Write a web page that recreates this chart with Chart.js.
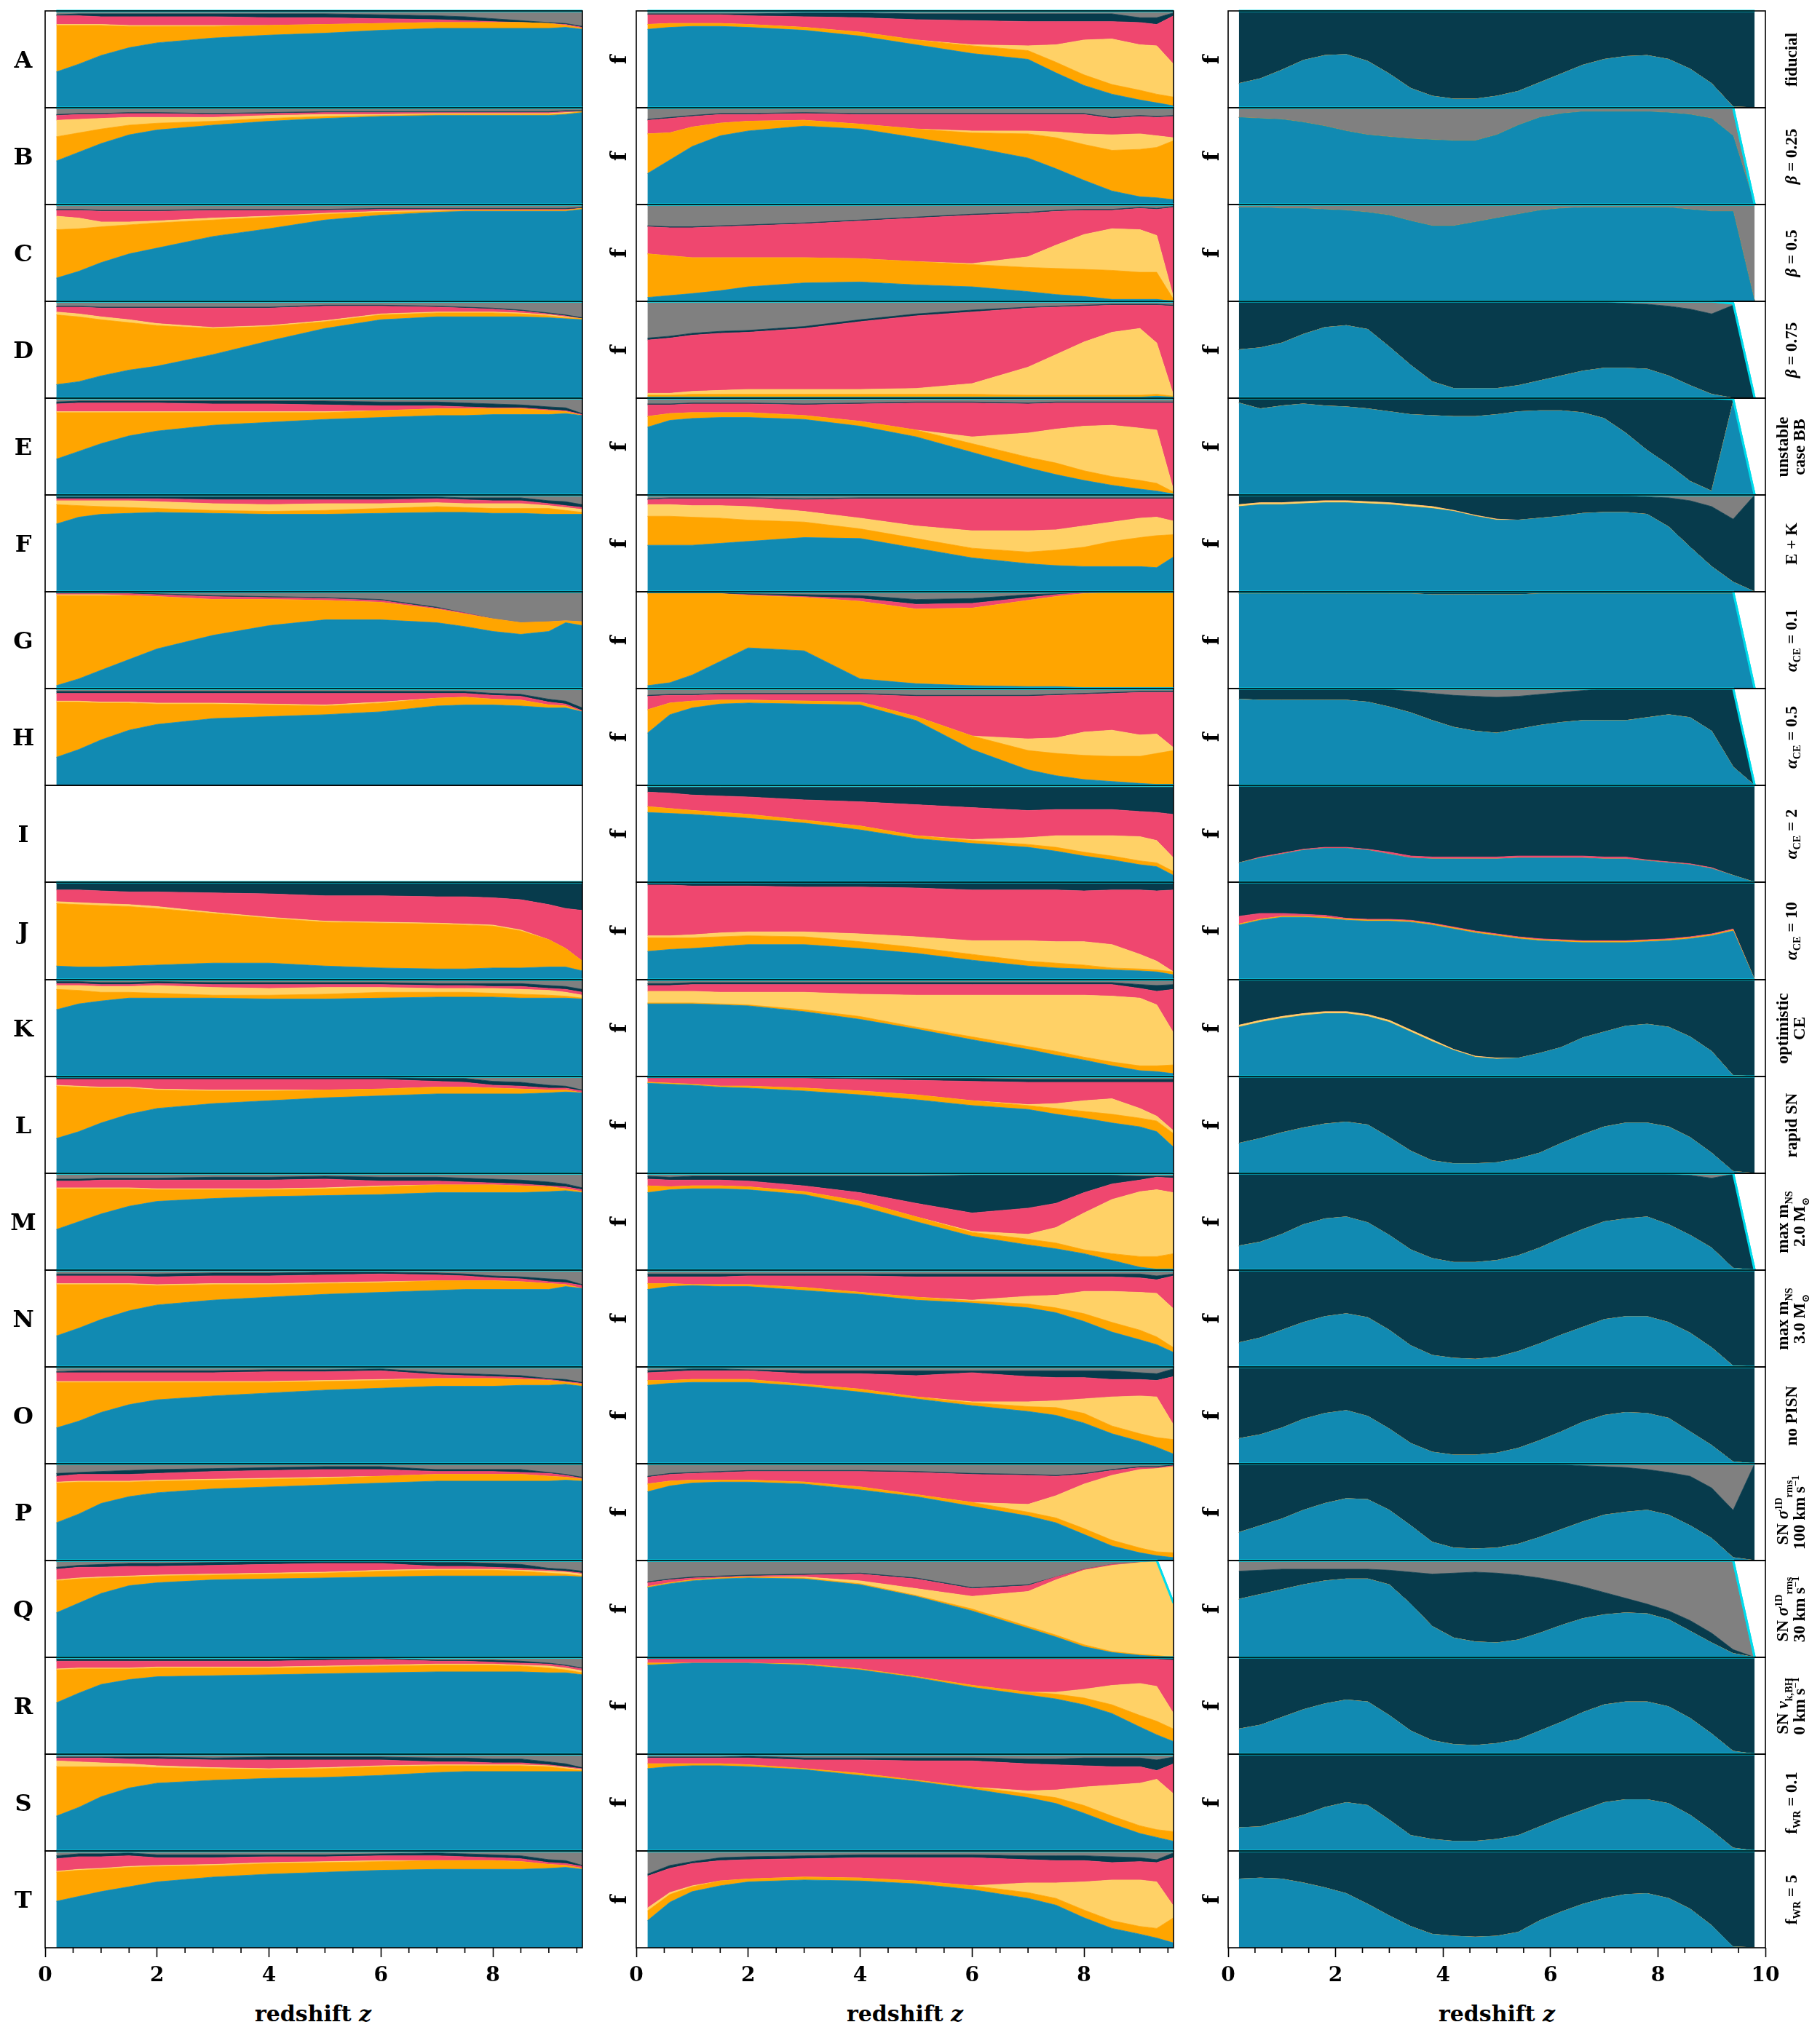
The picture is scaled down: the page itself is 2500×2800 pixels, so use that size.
<!DOCTYPE html>
<html><head><meta charset="utf-8">
<script src="https://cdn.jsdelivr.net/npm/chart.js@4.4.1/dist/chart.umd.min.js"></script>
<style>
html,body{margin:0;padding:0;background:#fff;}
#fig{position:relative;width:2500px;height:2800px;overflow:hidden;font-family:"Liberation Serif","DejaVu Serif",serif;color:#000;background:#fff;}
canvas{position:absolute;}
.lbl{position:absolute;white-space:nowrap;transform:translate(-50%,-50%);line-height:1;}
.rot{transform:translate(-50%,-50%) rotate(-90deg);text-align:center;}
.dj{font-family:"DejaVu Serif",serif;font-weight:bold;}
sub,sup{font-size:0.62em;line-height:0;}
</style></head><body><div id="fig"></div>
<script>
// ---------------- data ----------------
const zL = [0.2, 0.6, 1.0, 1.5, 2, 3, 4, 5, 6, 7, 7.5, 8, 8.5, 9, 9.3, 9.6];
const zR = [0.2, 0.6, 1.0, 1.4, 1.8, 2.2, 2.6, 3.0, 3.4, 3.8, 4.2, 4.6, 5.0, 5.4, 5.8, 6.2, 6.6, 7.0, 7.4, 7.8, 8.2, 8.6, 9.0, 9.4, 9.8];
const xTicksMajor = [0, 2, 4, 6, 8, 10];
const rowLetters = ['A','B','C','D','E','F','G','H','I','J','K','L','M','N','O','P','Q','R','S','T'];
const variantLabels = ['fiducial','<i>β</i> = 0.25','<i>β</i> = 0.5','<i>β</i> = 0.75','unstable<br>case BB','E + K',
 '<i>α</i><sub>CE</sub> = 0.1','<i>α</i><sub>CE</sub> = 0.5','<i>α</i><sub>CE</sub> = 2','<i>α</i><sub>CE</sub> = 10',
 'optimistic<br>CE','rapid SN','max m<sub>NS</sub><br>2.0 M<sub>⊙</sub>','max m<sub>NS</sub><br>3.0 M<sub>⊙</sub>','no PISN',
 'SN <i>σ</i><sup>1D</sup><sub>rms</sub><br>100 km s<sup>−1</sup>','SN <i>σ</i><sup>1D</sup><sub>rms</sub><br>30 km s<sup>−1</sup>',
 'SN <i>v</i><sub>k,BH</sub><br>0 km s<sup>−1</sup>','f<sub>WR</sub> = 0.1','f<sub>WR</sub> = 5'];
const channelNames = ['classic','stable MT','single-core CE','double-core CE','other','unclassified'];
const zeros25 = [0,0,0,0,0,0,0,0,0,0,0,0,0,0,0,0,0,0,0,0,0,0,0,0,0];

// left column, percent per channel [blue, orange, yellow, pink, dark, gray]
const left_A = [[37,45,54,62,67,72,75,77,80,82,82,82,82,82,83,81],[48,40,31,22,17,12,10,9,7,6,6,6,6,5,2,1],[1,1,1,1,1,1,0,0,0,0,0,0,0,0,0,0],[9,9,8,9,9,9,8,7,5,3,2,1,0,0,1,1],[1,2,3,3,3,3,4,4,4,4,4,3,2,1,1,1],[4,3,3,3,3,3,3,3,4,5,6,8,10,12,13,16]];
const left_B = [[45,54,63,72,77,82,86,89,91,92,92,92,92,92,93,95],[25,20,15,10,7,4,3,2,1,1,1,1,1,1,1,1],[17,14,11,8,6,4,3,2,1,1,1,1,1,1,1,0],[5,5,4,4,4,3,2,2,2,1,1,1,1,1,1,0],[1,1,1,1,1,1,1,1,1,1,1,1,1,1,1,1],[7,6,6,5,5,6,5,4,4,4,4,4,4,4,3,3]];
const left_C = [[24,31,40,49,55,67,75,84,89,92,93,93,93,93,93,95],[50,44,37,30,26,17,12,6,3,1,1,1,1,1,1,1],[14,11,5,3,2,2,1,1,1,1,0,0,0,0,0,0],[6,8,11,11,10,8,6,3,2,1,1,1,1,1,1,0],[1,1,1,1,1,1,1,1,1,1,1,1,1,1,1,1],[5,5,6,6,6,5,5,5,4,4,4,4,4,4,4,3]];
const left_D = [[14,17,23,29,33,45,59,72,81,84,84,84,84,83,82,81],[72,67,58,49,42,27,15,7,5,4,4,4,3,2,1,1],[3,3,3,3,2,1,1,1,1,1,1,1,1,1,1,0],[5,7,9,12,16,20,18,15,8,5,4,3,2,1,1,0],[1,1,1,1,1,1,1,1,1,1,1,1,1,1,1,1],[5,5,6,6,6,6,6,4,4,5,6,7,9,12,14,17]];
const left_E = [[37,45,53,61,66,72,75,78,80,82,82,83,83,83,84,82],[48,40,32,24,19,13,10,7,7,7,7,6,6,4,2,0],[1,1,1,1,1,1,1,1,0,0,0,0,0,0,0,0],[8,9,9,9,9,8,8,7,5,3,2,1,1,1,1,1],[2,2,2,2,2,3,3,4,4,4,4,4,3,3,3,1],[4,3,3,3,3,3,3,3,4,4,5,6,7,9,10,16]];
const left_F = [[70,77,80,81,82,81,80,80,81,82,82,81,81,80,80,80],[20,12,8,6,4,3,3,4,5,6,5,5,5,6,4,2],[4,5,6,7,7,7,7,7,5,4,4,5,5,3,3,3],[2,2,2,2,3,4,5,4,4,4,4,3,3,2,2,2],[2,2,2,2,2,3,3,3,3,2,2,3,3,3,4,3],[2,2,2,2,2,2,2,2,2,2,3,3,3,6,7,10]];
const left_G = [[3,10,19,30,41,55,65,71,71,68,64,59,56,59,68,65],[93,86,77,66,54,37,27,20,18,14,13,13,12,10,2,4],[1,1,1,0,0,0,0,0,0,0,0,0,0,0,0,0],[1,1,1,2,2,3,2,2,2,1,1,0,0,0,0,0],[1,1,1,1,1,1,1,1,1,1,0,0,0,0,0,0],[1,1,1,1,2,4,5,6,8,16,22,28,32,31,30,31]];
const left_H = [[29,37,47,57,63,69,71,73,76,82,83,83,82,80,80,76],[57,49,38,28,21,15,12,9,9,8,8,6,6,3,2,0],[1,1,1,1,1,1,1,1,1,0,0,0,0,0,0,0],[8,8,9,9,10,10,11,12,9,5,4,4,4,3,2,1],[2,2,2,2,2,2,2,2,2,2,2,2,2,3,3,3],[3,3,3,3,3,3,3,3,3,3,3,5,6,11,13,20]];
const left_I = [];
const left_J = [[14,13,13,14,15,17,17,14,12,11,11,12,12,13,13,9],[64,64,63,61,58,51,46,45,46,46,45,43,38,28,19,10],[2,2,2,2,2,1,1,1,1,1,1,1,1,0,0,0],[12,13,13,13,15,20,24,26,27,27,28,28,31,36,41,52],[7,7,8,9,9,10,11,13,13,14,14,15,17,22,26,28],[1,1,1,1,1,1,1,1,1,1,1,1,1,1,1,1]];
const left_K = [[69,75,78,81,81,81,80,80,81,82,82,82,81,81,81,80],[21,14,9,6,5,3,4,5,6,5,5,4,4,3,2,1],[4,5,6,6,8,8,7,7,5,4,4,5,5,5,4,3],[2,2,2,2,2,3,4,3,3,3,3,2,3,2,3,3],[2,2,2,2,2,2,2,2,2,2,2,3,3,3,3,3],[2,2,3,3,2,3,3,3,3,4,4,4,4,6,7,10]];
const left_L = [[36,43,52,61,67,72,75,78,80,82,82,82,82,83,84,83],[54,46,36,27,19,13,10,8,7,7,7,6,5,3,2,0],[1,1,1,1,1,1,1,0,0,0,0,0,0,0,0,0],[6,7,8,8,10,11,11,11,10,6,5,3,3,2,2,2],[2,2,2,2,2,2,2,2,2,3,4,4,4,3,2,1],[1,1,1,1,1,1,1,1,1,2,2,5,6,9,10,14]];
const left_M = [[42,50,58,66,71,74,76,77,78,80,80,80,80,81,82,80],[42,34,26,18,12,9,7,7,8,8,8,8,7,5,2,1],[1,1,1,1,1,1,1,1,1,0,0,0,0,0,0,0],[7,7,8,8,9,9,9,9,5,4,3,2,2,1,2,2],[2,2,2,2,2,3,3,3,4,4,4,4,4,4,3,2],[6,6,5,5,5,4,4,3,4,4,5,6,7,9,11,15]];
const left_N = [[32,40,49,58,64,69,72,75,77,79,80,80,80,80,83,81],[53,45,36,27,20,16,13,11,10,10,9,9,8,6,2,0],[1,1,1,1,1,1,1,1,1,0,0,0,0,0,0,0],[8,8,8,8,8,8,8,8,8,6,5,3,3,2,2,3],[2,2,2,2,3,3,3,3,2,2,2,2,2,3,3,1],[4,4,4,4,4,3,3,2,2,3,4,6,7,9,10,15]];
const left_O = [[37,44,53,61,66,70,73,76,78,80,80,80,81,81,82,80],[47,40,31,23,18,14,11,9,8,8,8,8,6,5,2,2],[1,1,1,1,1,1,1,1,1,0,0,0,0,0,0,0],[9,9,9,9,9,9,10,9,9,4,3,2,2,1,1,1],[1,2,2,2,2,2,2,2,2,2,2,2,2,1,2,1],[5,4,4,4,4,4,3,3,2,6,7,8,9,12,13,16]];
const left_P = [[39,48,59,66,70,74,76,78,80,82,82,82,82,82,83,82],[41,33,22,15,12,9,8,7,7,7,7,7,7,5,3,2],[1,1,1,1,1,1,1,1,0,0,0,0,0,0,0,0],[6,7,7,7,7,8,8,8,7,3,3,3,2,3,2,1],[3,2,3,4,4,3,3,3,3,2,2,2,3,1,1,1],[10,9,8,7,6,5,4,3,3,6,6,6,6,9,11,14]];
const left_Q = [[46,56,66,74,77,80,81,82,83,84,84,84,84,84,84,83],[33,25,16,9,7,5,5,5,6,6,6,6,5,3,2,1],[1,1,1,1,1,1,1,1,1,1,1,1,1,2,2,2],[11,11,10,10,9,9,9,9,7,3,3,2,2,1,1,1],[2,2,3,3,3,3,3,2,2,4,4,4,4,2,2,2],[7,5,4,3,3,2,1,1,1,2,2,3,4,8,9,11]];
const left_R = [[53,63,72,77,80,81,82,83,84,85,85,85,85,84,84,82],[34,25,16,11,9,8,7,7,7,7,7,7,6,5,3,2],[1,1,1,1,1,1,1,1,1,1,1,1,1,2,2,2],[8,7,7,7,6,6,6,6,6,3,3,2,2,2,2,2],[2,2,2,2,2,2,2,2,1,1,1,2,2,1,1,1],[2,2,2,2,2,2,2,1,1,3,3,3,4,6,8,11]];
const left_S = [[36,45,56,65,70,73,75,76,78,81,82,82,82,82,82,82],[51,42,31,22,16,12,9,9,9,7,6,6,6,5,3,1],[6,5,4,3,2,1,1,1,1,1,1,1,1,1,1,1],[3,4,5,5,7,8,9,8,6,3,3,2,2,1,1,1],[1,1,1,2,2,2,3,3,3,4,4,4,4,3,3,1],[3,3,3,3,3,4,3,3,3,4,4,5,5,8,10,14]];
const left_T = [[48,53,58,63,68,73,76,78,80,81,81,81,81,82,83,81],[30,27,23,20,16,12,11,10,9,9,9,9,8,4,2,1],[1,1,1,1,1,1,1,1,1,0,0,0,0,0,0,0],[13,13,12,11,8,7,6,5,5,5,4,3,3,2,2,2],[3,3,3,3,3,3,2,2,2,3,3,3,3,3,3,1],[5,3,3,2,4,4,4,4,3,2,3,4,5,9,10,15]];

// middle column
const mid_A = [[81,83,84,84,83,80,74,65,56,50,36,23,14,8,5,2],[5,4,3,3,3,3,4,5,8,9,11,11,10,10,9,9],[0,0,0,0,0,0,0,0,1,5,18,36,47,47,50,34],[10,9,9,9,9,11,15,21,25,25,24,19,18,23,22,50],[1,1,1,1,2,4,5,6,7,8,8,8,8,5,7,3],[3,3,3,3,3,2,2,3,3,3,3,3,3,7,7,2]];
const mid_B = [[32,46,60,71,76,81,78,69,59,48,37,25,14,8,7,5],[41,28,20,13,10,6,5,9,15,25,32,37,42,49,52,61],[0,0,0,0,0,0,0,0,2,3,6,11,16,16,12,3],[14,15,11,9,7,7,10,15,17,17,18,20,17,18,19,22],[1,1,1,1,1,1,1,1,1,1,1,1,1,1,1,1],[12,10,8,6,6,5,6,6,6,6,6,6,10,8,9,8]];
const mid_C = [[4,6,8,11,15,19,20,17,15,10,7,5,2,2,2,0],[45,41,37,34,30,26,24,24,23,25,27,28,30,28,28,2],[0,0,0,0,0,0,0,0,1,11,24,36,43,44,38,2],[28,29,31,32,33,35,39,45,50,45,35,25,19,22,27,93],[1,1,1,1,1,1,1,1,1,1,1,1,1,1,1,1],[22,23,23,22,21,19,16,13,10,8,6,5,5,3,4,2]];
const mid_D = [[1,1,1,1,1,1,1,1,1,1,1,1,1,1,2,1],[2,2,3,3,3,3,3,3,3,2,2,2,2,2,2,1],[2,2,3,4,5,5,5,6,11,29,42,55,65,69,53,1],[55,57,58,59,59,63,70,75,74,61,49,37,28,24,39,92],[2,2,2,2,2,2,2,2,2,1,1,1,1,1,1,1],[38,36,33,31,30,26,19,13,9,6,5,4,3,3,3,4]];
const mid_E = [[70,77,79,80,80,78,71,60,44,28,21,15,10,6,4,1],[11,7,6,5,5,4,5,7,9,11,12,10,9,9,8,2],[0,0,0,0,0,0,0,0,7,25,35,46,53,54,55,2],[12,9,9,9,9,11,18,28,35,30,27,24,23,26,28,90],[1,1,1,1,1,1,1,1,1,1,1,1,1,1,1,1],[6,6,5,5,5,6,5,4,4,5,4,4,4,4,4,4]];
const mid_F = [[48,48,48,50,52,56,55,45,35,29,27,26,26,26,25,36],[30,30,29,26,22,16,10,10,10,12,16,20,26,30,33,23],[12,12,12,13,14,11,11,13,18,22,21,22,20,20,19,14],[5,6,7,7,8,12,20,28,33,33,32,28,24,20,19,23],[1,1,1,1,1,1,1,1,1,1,1,1,1,1,1,1],[4,3,3,3,3,4,3,3,3,3,3,3,3,3,3,3]];
const mid_G = [[3,6,14,28,42,39,10,5,3,2,2,1,1,1,1,1],[95,92,84,70,54,55,80,77,80,89,93,97,98,98,98,98],[0,0,0,0,0,0,0,0,0,0,0,0,0,0,0,0],[0,0,0,0,1,1,3,5,5,3,2,1,0,0,0,0],[1,1,1,1,1,2,3,5,5,3,1,0,0,0,0,0],[1,1,1,1,2,3,4,8,7,3,2,1,1,1,1,1]];
const mid_H = [[54,73,80,84,85,84,83,67,37,16,10,6,4,2,1,1],[24,12,7,4,3,3,3,4,14,20,23,25,26,28,32,35],[0,0,0,0,0,0,0,0,0,12,16,24,27,22,20,3],[14,8,6,6,6,7,8,21,41,44,44,39,38,44,43,57],[1,1,1,1,1,1,1,1,1,1,1,1,1,1,1,1],[7,6,6,5,5,5,5,7,7,7,6,5,4,3,3,3]];
const mid_I = [[72,71,70,68,66,61,54,45,40,36,32,27,23,18,16,7],[6,5,4,4,4,3,4,3,3,3,4,4,4,4,4,4],[0,0,0,0,0,0,0,0,1,7,12,17,21,25,23,14],[15,16,16,17,18,21,25,32,33,28,27,27,27,26,29,45],[5,6,8,9,10,13,15,18,21,24,23,23,23,25,26,28],[2,2,2,2,2,2,2,2,2,2,2,2,2,2,2,2]];
const mid_J = [[29,31,32,34,36,36,32,27,20,14,12,11,10,9,8,5],[14,12,11,10,9,8,7,6,6,5,5,4,2,2,2,3],[2,2,3,4,4,5,8,11,14,21,22,24,24,15,9,0],[52,52,50,48,47,46,48,50,52,52,53,52,56,66,72,84],[2,2,3,3,3,4,4,5,7,7,7,8,7,7,8,7],[1,1,1,1,1,1,1,1,1,1,1,1,1,1,1,1]];
const mid_K = [[75,75,75,74,73,67,59,49,38,28,22,17,11,6,5,3],[1,1,1,1,1,2,3,2,3,3,4,3,4,5,6,9],[12,12,12,12,13,18,23,33,43,53,58,64,68,70,63,33],[6,6,7,8,8,8,10,11,11,11,11,11,12,10,14,45],[2,2,2,2,2,2,2,2,2,2,2,2,2,4,6,5],[4,4,3,3,3,3,3,3,3,3,3,3,3,5,6,5]];
const mid_L = [[93,92,91,89,88,85,81,76,70,66,61,57,52,48,43,27],[1,1,1,1,2,3,4,5,5,4,6,7,9,9,11,14],[0,0,0,0,0,0,0,0,0,1,5,11,16,10,5,3],[4,5,6,8,8,10,12,15,20,23,22,19,17,27,35,50],[1,1,1,1,1,1,1,2,3,3,3,3,3,3,3,3],[1,1,1,1,1,1,2,2,2,3,3,3,3,3,3,3]];
const mid_M = [[80,83,84,84,83,78,66,50,35,26,22,17,10,3,1,1],[7,3,3,3,3,3,5,5,4,6,6,4,7,11,13,16],[0,0,0,0,0,0,0,0,1,5,16,38,56,67,69,63],[7,7,6,6,6,6,9,14,19,27,25,21,16,12,13,15],[3,3,4,4,5,10,17,28,39,34,29,18,9,4,1,2],[3,4,3,3,3,3,3,3,2,2,2,2,2,3,3,3]];
const mid_N = [[80,83,84,83,83,79,75,69,66,61,56,47,36,28,23,15],[6,3,1,2,2,3,2,3,2,4,5,8,10,10,8,5],[0,0,0,0,0,0,0,0,1,8,13,23,32,39,45,40],[7,7,8,8,9,12,17,21,24,20,19,15,15,15,14,34],[3,3,3,3,2,2,2,3,3,3,3,3,3,4,4,2],[4,4,4,4,4,4,4,4,4,4,4,4,4,4,6,4]];
const mid_O = [[81,83,84,84,84,80,74,67,60,54,50,42,31,23,17,10],[5,3,3,3,3,2,3,2,3,5,8,10,8,8,10,15],[0,0,0,0,0,0,0,0,1,5,7,15,30,39,42,15],[8,9,9,9,9,11,16,22,30,26,24,22,18,17,17,50],[2,2,2,2,1,3,3,5,2,6,7,7,9,7,7,8],[4,3,2,2,3,4,4,4,4,4,4,4,4,6,7,2]];
const mid_P = [[71,77,80,81,81,79,73,66,56,46,39,27,15,8,5,3],[8,5,3,2,2,2,3,2,4,4,5,6,6,5,4,5],[0,0,0,0,0,0,0,0,0,8,23,46,67,81,86,89],[7,7,7,8,9,11,16,23,29,30,20,10,5,2,1,1],[1,1,1,1,1,1,1,1,1,1,1,1,1,1,1,1],[13,10,9,8,7,7,7,8,10,11,12,10,6,3,3,1]];
const mid_Q = [[72,76,79,81,82,81,75,63,48,30,21,11,5,2,1,0],[1,1,1,1,1,1,1,1,2,2,2,2,1,1,1,0],[0,0,0,0,0,1,3,7,13,36,57,77,89,95,97,56],[4,3,2,1,1,2,7,10,8,6,3,1,1,0,0,0],[1,1,1,1,1,1,1,1,1,1,0,0,0,0,0,0],[22,19,17,16,15,14,13,18,28,25,17,9,4,2,1,0]];
const mid_R = [[92,93,94,94,94,92,87,79,69,61,57,51,42,28,20,13],[2,1,0,0,0,1,1,1,2,3,5,7,9,12,14,13],[0,0,0,0,0,0,0,0,0,0,2,9,20,33,36,16],[4,4,4,4,4,5,10,18,27,34,34,31,27,25,28,55],[1,1,1,1,1,1,1,1,1,1,1,1,1,1,1,2],[1,1,1,1,1,1,1,1,1,1,1,1,1,1,1,1]];
const mid_S = [[85,87,88,88,87,84,78,72,64,55,49,39,28,18,14,10],[5,3,2,2,2,1,2,1,2,4,6,8,8,8,8,10],[0,0,0,0,0,0,0,0,0,3,8,19,32,44,52,39],[6,6,6,6,7,9,14,20,27,28,26,22,19,17,9,31],[1,1,1,1,2,2,2,3,3,5,6,8,9,9,11,7],[3,3,3,3,2,4,4,4,4,5,5,4,4,4,6,3]];
const mid_T = [[28,47,58,64,68,70,69,66,60,51,44,31,20,14,10,5],[10,8,5,5,3,3,3,3,4,6,7,8,8,8,10,26],[3,2,1,0,0,0,0,0,0,10,16,29,42,48,48,12],[33,25,23,21,20,19,21,24,29,24,23,22,18,19,20,50],[2,3,2,3,3,3,3,3,3,4,5,5,6,4,3,5],[24,15,11,7,6,5,4,4,4,5,5,5,6,7,9,2]];

// right column
const right_A = [[25,30,39,49,54,55,48,35,20,12,9,9,12,17,26,35,44,50,53,54,50,40,25,1,0],zeros25,zeros25,zeros25,[75,70,61,51,46,45,52,65,80,88,91,91,88,83,74,65,56,50,47,46,50,60,75,99,100],zeros25];
const right_B = [[90,89,88,85,81,76,72,70,68,67,66,66,72,82,90,94,96,96,96,96,95,93,89,71,0],zeros25,zeros25,zeros25,zeros25,[10,11,12,15,19,24,28,30,32,33,34,34,28,18,10,6,4,4,4,4,5,7,11,29,0]];
const right_C = [[97,97,96,96,95,94,92,89,83,78,78,82,86,90,94,96,97,97,97,97,97,95,93,93,0],zeros25,zeros25,zeros25,zeros25,[3,3,4,4,5,6,8,11,17,22,22,18,14,10,6,4,3,3,3,3,3,5,7,7,100]];
const right_D = [[50,52,57,66,73,75,71,53,34,17,10,10,10,13,18,23,28,31,31,30,23,13,4,0,0],zeros25,zeros25,zeros25,[50,48,43,34,27,25,29,47,66,83,90,90,90,87,82,77,71,68,67,67,72,79,83,96,0],[0,0,0,0,0,0,0,0,0,0,0,0,0,0,0,0,1,1,2,3,5,8,13,2,0]];
const right_E = [[95,89,92,94,92,91,89,86,83,82,81,81,83,86,87,87,85,79,64,46,31,14,4,96,0],zeros25,zeros25,zeros25,[5,11,8,6,8,9,11,14,17,18,19,19,17,14,13,13,15,21,36,54,69,86,96,3,0],zeros25];
const right_F = [[88,90,90,91,92,92,91,90,88,86,83,78,74,74,76,78,81,82,82,80,67,46,26,10,0],zeros25,[2,2,2,2,2,2,2,2,2,2,1,1,1,0,0,0,0,0,0,0,0,0,0,0,0],zeros25,[10,8,8,7,6,6,7,8,10,12,16,21,25,26,24,22,19,18,17,18,30,48,62,65,100],[0,0,0,0,0,0,0,0,0,0,0,0,0,0,0,0,0,0,1,2,3,6,12,25,0]];
const right_G = [[98,98,98,98,98,98,98,98,98,97,97,97,97,97,98,98,98,98,98,98,98,98,98,98,0],zeros25,zeros25,zeros25,[2,2,2,2,2,2,2,2,2,3,3,3,3,3,2,2,2,2,2,2,2,2,2,2,0],zeros25];
const right_H = [[89,88,88,88,88,88,86,81,75,67,60,56,54,58,62,65,67,67,67,70,73,70,56,19,0],zeros25,zeros25,zeros25,[11,12,12,12,12,12,14,18,22,28,33,36,37,34,32,31,31,33,33,30,27,30,44,81,0],[0,0,0,0,0,0,0,1,3,5,7,8,9,8,6,4,2,0,0,0,0,0,0,0,0]];
const right_I = [[20,25,29,33,35,35,33,29,25,24,24,24,24,25,25,25,25,24,24,22,20,18,14,7,0],zeros25,zeros25,[0,1,1,1,1,1,1,2,2,2,2,2,2,2,2,2,2,2,2,1,1,1,1,0,0],[80,74,70,66,64,64,66,69,73,74,74,74,74,73,73,73,73,74,74,77,79,81,85,93,100],zeros25];
const right_J = [[56,61,64,64,63,61,60,60,59,56,52,48,45,42,40,39,38,38,38,39,40,42,45,50,0],[1,1,1,1,1,1,1,1,1,1,1,1,1,1,1,1,1,1,1,1,1,1,1,1,0],zeros25,[8,6,3,2,2,1,1,1,1,1,1,1,1,1,1,1,1,1,1,1,1,1,1,1,0],[35,32,32,33,34,37,38,38,39,42,46,50,53,56,58,59,60,60,60,59,58,56,53,48,100],zeros25];
const right_K = [[51,56,60,63,65,65,62,56,46,36,27,20,18,19,24,30,40,46,52,54,51,41,26,1,0],zeros25,[2,2,2,2,2,2,2,2,2,2,1,1,1,0,0,0,0,0,0,0,0,0,0,0,0],zeros25,[47,42,38,35,33,33,36,42,52,62,72,79,81,81,76,70,60,54,48,46,49,59,74,99,100],zeros25];
const right_L = [[31,36,42,47,51,53,50,37,23,13,10,10,11,15,21,31,40,48,52,52,48,37,21,2,0],zeros25,zeros25,zeros25,[69,64,58,53,49,47,50,63,77,87,90,90,89,85,79,69,60,52,48,48,52,63,79,98,100],zeros25];
const right_M = [[25,29,37,47,53,55,49,36,21,12,8,8,10,15,23,33,42,50,53,55,47,36,23,2,0],zeros25,zeros25,zeros25,[75,71,63,53,47,45,51,64,79,88,92,92,90,85,77,67,58,50,47,45,52,62,72,97,0],[0,0,0,0,0,0,0,0,0,0,0,0,0,0,0,0,0,0,0,0,1,2,5,1,0]];
const right_N = [[25,30,38,46,52,55,51,38,22,12,9,8,10,16,24,33,41,49,52,52,46,35,20,1,0],zeros25,zeros25,zeros25,[75,70,62,54,48,45,49,62,78,88,91,92,90,84,76,67,59,51,48,48,54,65,80,99,100],zeros25];
const right_O = [[26,30,37,46,52,55,49,36,21,12,9,9,11,16,24,33,43,50,53,52,47,33,19,2,0],zeros25,zeros25,zeros25,[74,70,63,54,48,45,51,64,79,88,91,91,89,84,76,67,57,50,47,48,53,67,81,98,100],zeros25];
const right_P = [[29,36,43,52,59,64,63,52,36,19,13,12,13,17,24,32,40,47,50,52,47,36,23,3,0],zeros25,zeros25,zeros25,[71,64,57,48,41,36,37,48,64,81,87,88,87,83,76,67,58,50,46,42,44,51,52,49,100],[0,0,0,0,0,0,0,0,0,0,0,0,0,0,0,1,2,3,4,6,9,13,25,48,0]];
const right_Q = [[60,65,70,75,79,81,81,75,55,32,20,16,15,18,25,33,40,44,46,45,39,27,15,4,0],zeros25,zeros25,zeros25,[29,25,21,16,12,10,10,15,33,54,67,72,72,67,57,45,33,23,15,10,9,11,10,4,0],[11,10,9,9,9,9,9,10,12,14,13,12,13,15,18,22,27,33,39,45,52,62,75,92,0]];
const right_R = [[26,30,38,46,52,56,54,40,24,14,10,9,11,15,24,33,43,51,54,54,49,37,21,3,0],zeros25,zeros25,zeros25,[74,70,62,54,48,44,46,60,76,86,90,91,89,85,76,67,57,49,46,46,51,63,79,97,100],zeros25];
const right_S = [[24,25,31,37,45,50,47,32,16,12,10,10,12,16,25,34,42,50,53,53,49,37,21,3,0],zeros25,zeros25,zeros25,[76,75,69,63,55,50,53,68,84,88,90,90,88,84,75,66,58,50,47,47,51,63,79,97,100],zeros25];
const right_T = [[71,72,71,67,62,56,45,33,22,14,12,11,12,16,28,37,45,51,55,56,51,40,23,1,0],zeros25,zeros25,zeros25,[29,28,29,33,38,44,55,67,78,86,88,89,88,84,72,63,55,49,45,44,49,60,77,99,100],zeros25];

const leftPanels  = [left_A,left_B,left_C,left_D,left_E,left_F,left_G,left_H,left_I,left_J,left_K,left_L,left_M,left_N,left_O,left_P,left_Q,left_R,left_S,left_T];
const midPanels   = [mid_A,mid_B,mid_C,mid_D,mid_E,mid_F,mid_G,mid_H,mid_I,mid_J,mid_K,mid_L,mid_M,mid_N,mid_O,mid_P,mid_Q,mid_R,mid_S,mid_T];
const rightPanels = [right_A,right_B,right_C,right_D,right_E,right_F,right_G,right_H,right_I,right_J,right_K,right_L,right_M,right_N,right_O,right_P,right_Q,right_R,right_S,right_T];

// ---------------- styles / layout ----------------
const channelColors = ['#118ab2','#ffa500','#ffd166','#ef476f','#073b4c','#808080'];
const topLineColor = '#00dcec';
const colLeft = [62, 874, 1687];
const colWidth = 738;
const xMaxCol = [9.6, 9.6, 10];
const rowTop = r => Math.round(15 + r * 133.05);
const PADX = 40, PADY = 2, AXISH = 70;

const fig = document.getElementById('fig');

const frame = { id:'frame', afterDraw(chart){
  const a = chart.chartArea, ctx = chart.ctx;
  ctx.save(); ctx.strokeStyle = '#000'; ctx.lineWidth = 1.6;
  ctx.strokeRect(a.left, a.top, a.right - a.left, a.bottom - a.top);
  ctx.restore();
}};
const topLine = { id:'topLine', afterDatasetsDraw(chart){
  const n = chart.data.datasets.length; if (!n) return;
  const meta = chart.getDatasetMeta(n - 1); const a = chart.chartArea; const ctx = chart.ctx;
  ctx.save(); ctx.beginPath(); ctx.rect(a.left, a.top - 3, a.right - a.left, a.bottom - a.top + 3); ctx.clip();
  meta.dataset.draw(ctx, a);
  ctx.restore();
}};
const minorTicks = { id:'minorTicks', afterDraw(chart, args, opts){
  if (!opts || !opts.on) return;
  const s = chart.scales.x, ctx = chart.ctx, b = chart.chartArea.bottom;
  ctx.save(); ctx.strokeStyle = '#000'; ctx.lineWidth = 1.6;
  for (let k = 1; k * 0.5 <= s.max + 1e-9; k++) {
    if (k % 4 === 0) continue;
    const x = s.getPixelForValue(k * 0.5);
    ctx.beginPath(); ctx.moveTo(x, b); ctx.lineTo(x, b + 7); ctx.stroke();
  }
  ctx.restore();
}};

function makeDatasets(panel, zs){
  return panel.map((vals, k) => ({
    label: channelNames[k],
    data: vals.map((v, i) => ({x: zs[i], y: v})),
    backgroundColor: channelColors[k],
    borderColor: k === 5 ? topLineColor : channelColors[k],
    borderWidth: k === 5 ? 3 : 0.8,
    fill: k === 0 ? 'origin' : '-1',
    pointRadius: 0, tension: 0
  }));
}

function makePanel(col, r, panel, zs){
  const isBottom = r === 19;
  const top = rowTop(r), h = rowTop(r + 1) - top;
  const cv = document.createElement('canvas');
  cv.width = colWidth + 2 * PADX;
  cv.height = h + PADY + (isBottom ? AXISH : PADY);
  cv.style.left = (colLeft[col] - PADX) + 'px';
  cv.style.top = (top - PADY) + 'px';
  fig.appendChild(cv);
  const xScale = { type: 'linear', min: 0, max: xMaxCol[col], display: isBottom,
    grid: { drawOnChartArea: false, drawTicks: true, tickLength: 13, tickWidth: 1.6, tickColor: '#000' },
    border: { display: false },
    afterBuildTicks: s => { s.ticks = xTicksMajor.filter(v => v <= xMaxCol[col]).map(v => ({value: v})); },
    ticks: { autoSkip: false, maxRotation: 0, color: '#000', padding: 9, font: { family: 'DejaVu Serif', size: 28, weight: 'bold' } } };
  if (isBottom) xScale.afterFit = s => { s.height = AXISH; s.paddingLeft = 0; s.paddingRight = 0; };
  new Chart(cv, {
    type: 'line',
    data: { datasets: makeDatasets(panel, zs) },
    options: {
      responsive: false, animation: false, devicePixelRatio: 1,
      layout: { padding: { left: PADX, right: PADX, top: PADY, bottom: isBottom ? 0 : PADY } },
      plugins: { legend: { display: false }, tooltip: { enabled: false }, minorTicks: { on: isBottom } },
      scales: { x: xScale, y: { stacked: true, min: 0, max: 100, display: false } }
    },
    plugins: [topLine, minorTicks, frame]
  });
}

const panelsByCol = [leftPanels, midPanels, rightPanels];
for (let c = 0; c < 3; c++) for (let r = 0; r < 20; r++) makePanel(c, r, panelsByCol[c][r], c < 2 ? zL : zR);

function addText(html, x, y, css, cls){
  const d = document.createElement('div');
  d.className = 'lbl' + (cls ? ' ' + cls : '');
  d.innerHTML = html;
  d.style.left = x + 'px'; d.style.top = y + 'px';
  Object.assign(d.style, css);
  fig.appendChild(d);
}
for (let r = 0; r < 20; r++) {
  const cy = (rowTop(r) + rowTop(r + 1)) / 2;
  addText(rowLetters[r], 32, cy, { fontSize: '32px' }, 'dj');
  addText('f', 850, cy, { fontSize: '29px' }, 'dj rot');
  addText('f', 1664, cy, { fontSize: '29px' }, 'dj rot');
  addText(variantLabels[r], 2461, cy, { fontSize: '23px', fontWeight: 'bold', lineHeight: '0.98' }, 'rot');
}
[430, 1243, 2056].forEach(x => addText('redshift <i>z</i>', x, 2767, { fontSize: '30px' }, 'dj'));
</script></body></html>
